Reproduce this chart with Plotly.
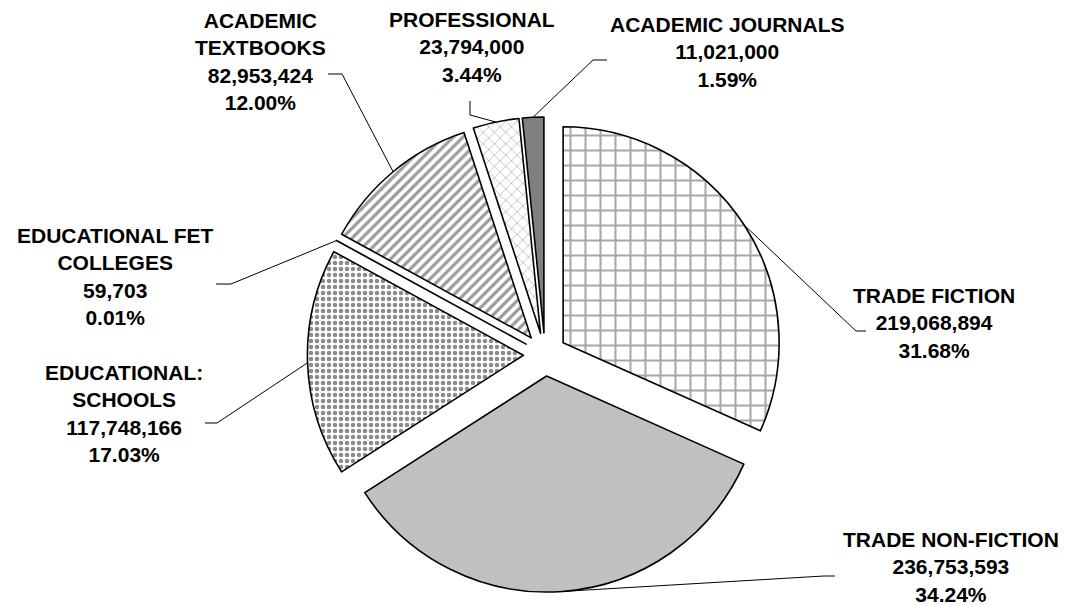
import math
import plotly.graph_objects as go

# ---- data ----
categories = ["TRADE FICTION", "TRADE NON-FICTION", "EDUCATIONAL:\nSCHOOLS",
              "EDUCATIONAL FET\nCOLLEGES", "ACADEMIC\nTEXTBOOKS", "PROFESSIONAL",
              "ACADEMIC JOURNALS"]
values = [219068894, 236753593, 117748166, 59703, 82953424, 23794000, 11021000]

# ---- styles ----
fill_colors = ["white", "#c0c0c0", "white", "white", "white", "white", "#808080"]
pat_shapes = ["+", "", ".", "", "/", "x", ""]
pat_fg = ["#a6a6a6", "#c0c0c0", "#8c8c8c", "#8c8c8c", "#9a9a9a", "#b5b5b5", "#808080"]
pat_bg = ["white", "#c0c0c0", "white", "white", "white", "white", "#808080"]
pat_size = [15, 8, 6, 8, 7, 8, 8]
pat_sol = [0.25, 0.3, 0.45, 0.3, 0.45, 0.18, 0.3]

W, H = 1066, 606
CX, CY, R = 537, 346.5, 216        # pie centre / radius in pixels
PULL = 0.1
half = R * (1 + PULL)
FONT_SIZE = 21

# label layout in pixels: block anchor, elbow of leader, leader end at label
label_layout = [
    dict(c=(926, 315), elbow=(848, 323), end=(858, 323)),
    dict(c=(943, 559), elbow=(816, 568), end=(827, 568)),
    dict(c=(116, 405), elbow=(209, 415), end=(197, 415)),
    dict(c=(107, 268), elbow=(223, 276), end=(208, 276)),
    dict(c=(252, 54), elbow=(334, 66), end=(320, 66)),
    dict(c=(464, 39), elbow=(462, 107), end=(462, 93)),
    dict(c=(719, 44), elbow=(585, 52), end=(599, 52)),
]

def px(x, y):
    return x / W, 1 - y / H

total = sum(values)
fig = go.Figure()
fig.add_trace(go.Pie(
    labels=[c.replace("\n", " ") for c in categories],
    values=values,
    sort=False,
    direction="clockwise",
    rotation=0,
    pull=[PULL] * len(values),
    textinfo="none",
    hoverinfo="label+value+percent",
    showlegend=False,
    marker=dict(
        colors=fill_colors,
        line=dict(color="black", width=1.6),
        pattern=dict(shape=pat_shapes, fgcolor=pat_fg, bgcolor=pat_bg,
                     size=pat_size, solidity=pat_sol, fillmode="replace"),
    ),
    domain=dict(x=[(CX - half) / W, (CX + half) / W],
                y=[1 - (CY + half) / H, 1 - (CY - half) / H]),
))

shapes = []
annotations = []
cum = 0.0
for cat, v, lay in zip(categories, values, label_layout):
    frac = v / total
    th = 2 * math.pi * (cum + frac / 2)
    cum += frac
    d = PULL * R
    sx = CX + d * math.sin(th) + R * math.sin(th)
    sy = CY - d * math.cos(th) - R * math.cos(th)
    p0 = px(sx, sy)
    p1 = px(*lay["elbow"])
    p2 = px(*lay["end"])
    shapes.append(dict(type="path", xref="paper", yref="paper",
                       path=f"M{p0[0]},{p0[1]} L{p1[0]},{p1[1]} L{p2[0]},{p2[1]}",
                       line=dict(color="black", width=1)))
    text = "<br>".join(cat.split("\n")) + f"<br>{v:,}<br>{frac * 100:.2f}%"
    ax, ay = px(*lay["c"])
    annotations.append(dict(x=ax, y=ay, xref="paper", yref="paper", text=f"<b>{text}</b>",
                            showarrow=False, xanchor="center", yanchor="middle",
                            align="center",
                            font=dict(family="Liberation Sans, Arial, sans-serif",
                                      size=FONT_SIZE, color="black")))

fig.update_layout(
    width=W, height=H,
    margin=dict(l=0, r=0, t=0, b=0),
    paper_bgcolor="white", plot_bgcolor="white",
    shapes=shapes, annotations=annotations,
)
fig.write_html("out.html")
